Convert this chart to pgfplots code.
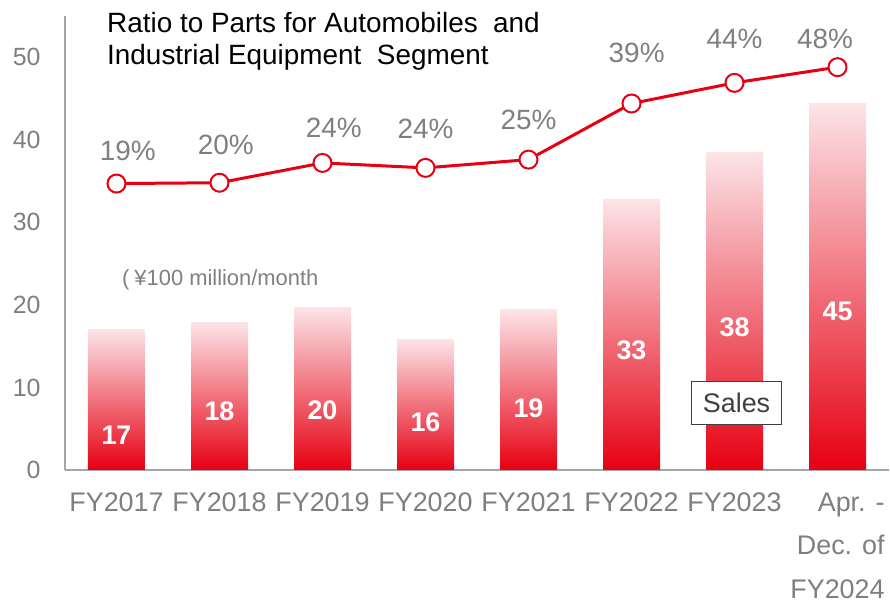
\documentclass[border=0pt]{standalone}
\usepackage{pgfplots}
\pgfplotsset{compat=1.18}
\usepackage{fontspec}
\setmainfont{Liberation Sans}
\definecolor{myred}{HTML}{E60012}
\definecolor{mypink}{HTML}{FCE4E8}
\definecolor{tickgray}{HTML}{7F7F7F}
\definecolor{axgray}{HTML}{A6A6A6}
\definecolor{boxgray}{HTML}{404040}
\pgfplotsset{salesbar/.style={ybar, bar width=57bp, bar shift=0pt, draw=none, top color=mypink, bottom color=myred, forget plot}}
\begin{document}
\begin{tikzpicture}
\begin{axis}[
  scale only axis, width=824bp, height=454bp,
  xmin=-0.5, xmax=7.5, ymin=0, ymax=55,
  axis lines*=left,
  axis line style={draw=axgray, line width=2bp},
  xtick={0,1,2,3,4,5,6,7},
  xticklabels={FY2017,FY2018,FY2019,FY2020,FY2021,FY2022,FY2023,{Apr. -\\Dec. of\\FY2024}},
  ytick={0,10,20,30,40,50},
  major tick length=0pt,
  tick style={draw=none},
  /pgf/number format/assume math mode=true,
  xticklabel style={font=\fontsize{27}{44}\selectfont, text=tickgray, align=right, anchor=north, yshift=-19bp},
  yticklabel style={font=\fontsize{25}{30}\selectfont, text=tickgray, xshift=-21bp},
  clip=false,
]
% sales bars (one plot per bar so each bar gets its own gradient)
\addplot[salesbar] coordinates {(0,17.0)};
\addplot[salesbar] coordinates {(1,17.85)};
\addplot[salesbar] coordinates {(2,19.7)};
\addplot[salesbar] coordinates {(3,15.8)};
\addplot[salesbar] coordinates {(4,19.4)};
\addplot[salesbar] coordinates {(5,32.8)};
\addplot[salesbar] coordinates {(6,38.5)};
\addplot[salesbar] coordinates {(7,44.4)};
% bar value labels
\addplot[draw=none, nodes near coords, point meta=explicit symbolic,
  nodes near coords style={anchor=center, font=\fontsize{27}{30}\selectfont\bfseries, text=white, inner sep=0pt}]
  coordinates {(0,4.24)[17] (1,7.06)[18] (2,7.27)[20] (3,5.77)[16] (4,7.47)[19] (5,14.45)[33] (6,17.28)[38] (7,19.18)[45]};
% ratio line
\addplot[myred, line width=3bp, mark=*, mark size=9bp,
  mark options={fill=white, draw=myred, line width=2bp, solid}]
  coordinates {(0,34.7) (1,34.8) (2,37.2) (3,36.6) (4,37.6) (5,44.4) (6,46.9) (7,48.8)};
% ratio labels
\addplot[draw=none, nodes near coords, point meta=explicit symbolic,
  nodes near coords style={anchor=center, font=\fontsize{28}{30}\selectfont, text=tickgray, inner sep=0pt}]
  coordinates {(0.11,38.6)[19\%] (1.06,39.4)[20\%] (2.11,41.5)[24\%] (3.0,41.3)[24\%] (4.0,42.4)[25\%] (5.05,50.5)[39\%] (6.0,52.2)[44\%] (6.88,52.2)[48\%]};
\node[anchor=north west, align=left, font=\fontsize{28}{32}\selectfont, inner sep=0pt]
  at (axis cs:-0.092,55.5) {Ratio to Parts for Automobiles\ \ and\\Industrial Equipment\ \ Segment};
\node[anchor=west, font=\fontsize{22}{26}\selectfont, text=tickgray, inner sep=0pt]
  at (axis cs:0.053,23.0) {(\hspace{5bp}¥100 million/month};
\node[draw=boxgray, line width=1.5bp, fill=white, text=boxgray, font=\fontsize{27}{30}\selectfont,
  minimum width=90bp, minimum height=43bp, inner sep=0pt]
  at (axis cs:6.02,8.1) {Sales};
\end{axis}
\pgfresetboundingbox
\path ([shift={(-65bp,-136bp)}]current axis.south west) rectangle ([shift={(1bp,16bp)}]current axis.north east);
\end{tikzpicture}
\end{document}
